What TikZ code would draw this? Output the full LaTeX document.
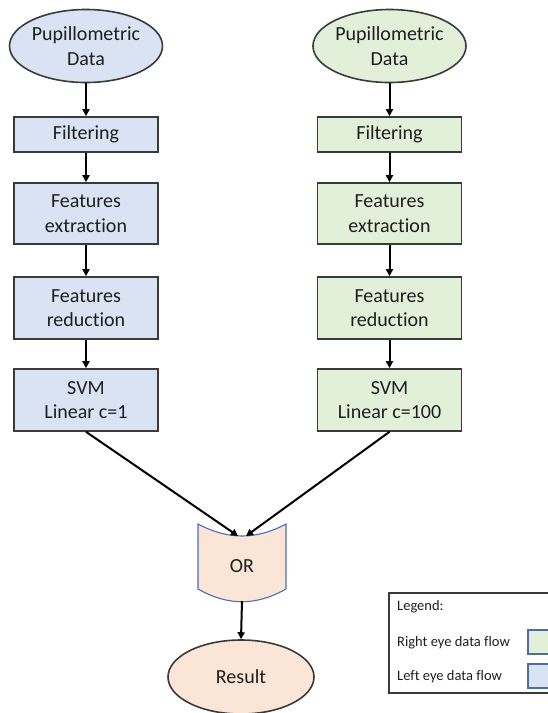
\documentclass[tikz,border=0pt]{standalone}
\usepackage{fontspec}
\setmainfont{Carlito}[Ligatures=NoCommon]
\usetikzlibrary{shapes.geometric,arrows.meta}
\definecolor{leftfill}{HTML}{DAE3F3}
\definecolor{rightfill}{HTML}{E2F0D9}
\definecolor{peach}{HTML}{FBE5D6}
\definecolor{boxline}{HTML}{3A3A3A}
\definecolor{orline}{HTML}{4A6FB5}
\definecolor{txt}{HTML}{1E1E1E}
\definecolor{swline}{HTML}{4F6C9C}
\tikzset{
  base/.style={draw=boxline, line width=1.6pt, inner sep=0pt, align=center, text=txt,
    font=\fontsize{20}{24.5}\selectfont},
  stepbox/.style={base, rectangle, minimum width=144pt},
  oval/.style={base, ellipse, minimum width=144pt, minimum height=73pt},
  lft/.style={fill=leftfill},
  rgt/.style={fill=rightfill},
  flow/.style={line width=2pt, -{Triangle[length=7pt,width=7pt]}},
  legtext/.style={anchor=west, inner sep=0pt, text=txt, font=\fontsize{14.5}{17}\selectfont},
  swatch/.style={draw=swline, line width=1.2pt}
}
\begin{document}
\begin{tikzpicture}[x=1pt,y=-1pt]
\useasboundingbox (0,0) rectangle (547,713);
% left column
\node[oval,lft] (lin) at (86,46) {Pupillometric\\Data};
\node[stepbox,lft,minimum height=35pt] (lfil) at (86,134.5) {Filtering};
\node[stepbox,lft,minimum height=61pt] (lext) at (86,213.5) {Features\\extraction};
\node[stepbox,lft,minimum height=62pt] (lred) at (86,308) {Features\\reduction};
\node[stepbox,lft,minimum height=62pt] (lsvm) at (86,400) {SVM\\Linear c=1};
% right column
\node[oval,rgt] (rin) at (389.5,46) {Pupillometric\\Data};
\node[stepbox,rgt,minimum height=35pt] (rfil) at (389.5,134.5) {Filtering};
\node[stepbox,rgt,minimum height=61pt] (rext) at (389.5,213.5) {Features\\extraction};
\node[stepbox,rgt,minimum height=62pt] (rred) at (389.5,308) {Features\\reduction};
\node[stepbox,rgt,minimum height=62pt] (rsvm) at (389.5,400) {SVM\\Linear c=100};
% OR shape
\draw[draw=orline, line width=1.1pt, fill=peach] (198,524) .. controls (228,540) and (256,540) .. (286,524)
  -- (286,589) .. controls (256,606) and (228,606) .. (198,589) -- cycle;
\node[inner sep=0pt, text=txt, font=\fontsize{20}{24.5}\selectfont] (or) at (242,566) {OR};
\coordinate (orL) at (238,536);
\coordinate (orR) at (246,536);
\coordinate (orB) at (242,601);
% result
\node[oval, fill=peach, minimum width=146pt, minimum height=74pt] (res) at (241,677) {Result};
% arrows
\draw[flow] (lin) -- (lfil);
\draw[flow] (lfil) -- (lext);
\draw[flow] (lext) -- (lred);
\draw[flow] (lred) -- (lsvm);
\draw[flow] (rin) -- (rfil);
\draw[flow] (rfil) -- (rext);
\draw[flow] (rext) -- (rred);
\draw[flow] (rred) -- (rsvm);
\draw[flow] (lsvm.south) -- (orL);
\draw[flow] (rsvm.south) -- (orR);
\draw[flow] (orB) -- (res.north);
% legend
\draw[draw=boxline, line width=1.6pt] (389,593) rectangle (570,693);
\node[legtext] (lg) at (397,607) {Legend:};
\node[legtext] (lgr) at (397,643) {Right eye data flow};
\node[legtext] (lgl) at (397,677) {Left eye data flow};
\draw[swatch, fill=rightfill] (528,630) rectangle (575,654);
\draw[swatch, fill=leftfill] (528,664) rectangle (575,688);
\end{tikzpicture}
\end{document}
